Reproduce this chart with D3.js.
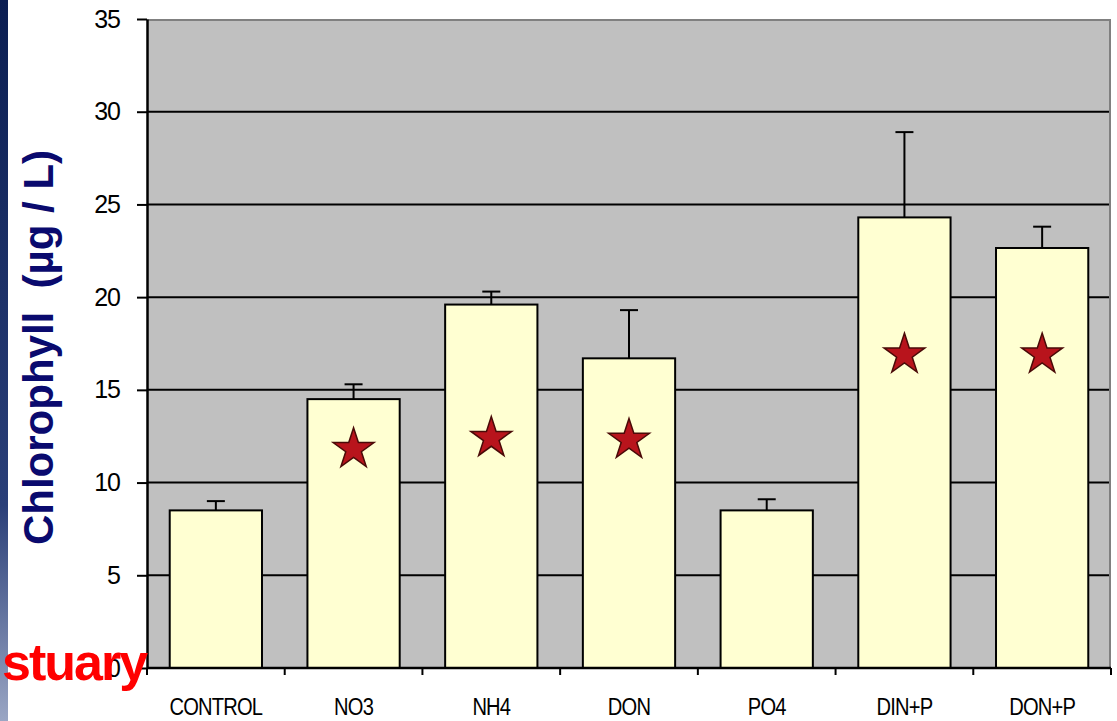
<!DOCTYPE html>
<html>
<head>
<meta charset="utf-8">
<script src="https://cdn.jsdelivr.net/npm/d3@7"></script>
<style>
  html, body { margin: 0; padding: 0; background: #ffffff; }
  svg { display: block; }
</style>
</head>
<body>
<script>
// Chlorophyll response to nutrient additions
const categories = ["CONTROL", "NO3", "NH4", "DON", "PO4", "DIN+P", "DON+P"];
const means      = [8.5, 14.5, 19.6, 16.7, 8.5, 24.3, 22.65];
const errors     = [0.5, 0.8, 0.7, 2.6, 0.6, 4.6, 1.15];
// star marks (significant difference), drawn at these chlorophyll levels
const starLevels = [null, 11.8, 12.4, 12.3, null, 16.9, 16.9];
const yTicks     = [0, 5, 10, 15, 20, 25, 30, 35];

const W = 1117, H = 721;
const plot = { left: 147, right: 1111, top: 19, bottom: 668 };
const FONT = "'Liberation Sans', Arial, sans-serif";

const svg = d3.select("body").append("svg").attr("width", W).attr("height", H);

// slide edge strip on the left
const defs = svg.append("defs");
const grad = defs.append("linearGradient").attr("id", "edge").attr("x1", 0).attr("y1", 0).attr("x2", 0).attr("y2", 1);
grad.append("stop").attr("offset", "0%").attr("stop-color", "#0b1e52");
grad.append("stop").attr("offset", "70%").attr("stop-color", "#2a3f78");
grad.append("stop").attr("offset", "100%").attr("stop-color", "#9aa6c4");
svg.append("rect").attr("x", 0).attr("y", 0).attr("width", 8).attr("height", H).attr("fill", "url(#edge)");

const x = d3.scaleBand().domain(categories).range([plot.left, plot.right]).paddingInner(0.33).paddingOuter(0.165);
const y = d3.scaleLinear().domain([0, 35]).range([plot.bottom, plot.top]);

// plot background
svg.append("rect")
  .attr("x", plot.left).attr("y", plot.top)
  .attr("width", plot.right - plot.left).attr("height", plot.bottom - plot.top)
  .attr("fill", "#c0c0c0");
// top and right frame
svg.append("path")
  .attr("d", `M${plot.left},${plot.top + 1}H${plot.right - 1}V${plot.bottom}`)
  .attr("fill", "none").attr("stroke", "#808080").attr("stroke-width", 2);

// horizontal gridlines
svg.append("g").selectAll("line").data(yTicks.filter(d => d > 0 && d < 35)).join("line")
  .attr("x1", plot.left).attr("x2", plot.right - 2)
  .attr("y1", d => y(d)).attr("y2", d => y(d))
  .attr("stroke", "#000").attr("stroke-width", 2);

// error bars (upper only)
const eb = svg.append("g");
categories.forEach((c, i) => {
  const cx = x(c) + x.bandwidth() / 2;
  eb.append("line").attr("x1", cx).attr("x2", cx)
    .attr("y1", y(means[i])).attr("y2", y(means[i] + errors[i]))
    .attr("stroke", "#000").attr("stroke-width", 2);
  eb.append("line").attr("x1", cx - 9).attr("x2", cx + 9)
    .attr("y1", y(means[i] + errors[i])).attr("y2", y(means[i] + errors[i]))
    .attr("stroke", "#000").attr("stroke-width", 2);
});

// bars
svg.append("g").selectAll("rect").data(categories).join("rect")
  .attr("x", d => x(d)).attr("width", x.bandwidth())
  .attr("y", (d, i) => y(means[i])).attr("height", (d, i) => y(0) - y(means[i]))
  .attr("fill", "#ffffd2").attr("stroke", "#000").attr("stroke-width", 2);

// stars
const star = d3.symbol().type(d3.symbolStar).size(520);
svg.append("g").selectAll("path").data(categories.map((c, i) => ({ c, v: starLevels[i] })).filter(d => d.v != null)).join("path")
  .attr("d", star)
  .attr("transform", d => `translate(${x(d.c) + x.bandwidth() / 2},${y(d.v)})`)
  .attr("fill", "#b8141c").attr("stroke", "#4a0a08").attr("stroke-width", 1.5);

// y axis
const yAxis = svg.append("g").attr("transform", `translate(${plot.left},0)`)
  .call(d3.axisLeft(y).tickValues(yTicks).tickSize(10).tickSizeOuter(0).tickPadding(17));
yAxis.select(".domain").attr("stroke-width", 2.5);
yAxis.selectAll(".tick line").attr("stroke-width", 2);
yAxis.selectAll("text").attr("font-family", FONT).attr("font-size", 25).attr("fill", "#000")
  .attr("letter-spacing", "-1px");

// x axis with ticks at category boundaries
const xg = svg.append("g").attr("transform", `translate(0,${plot.bottom})`);
xg.append("line").attr("x1", plot.left).attr("x2", plot.right).attr("y1", 0).attr("y2", 0)
  .attr("stroke", "#000").attr("stroke-width", 2.5);
const bounds = d3.range(categories.length + 1).map(i => plot.left + i * (plot.right - plot.left) / categories.length);
xg.selectAll("line.tk").data(bounds).join("line").attr("class", "tk")
  .attr("x1", d => d).attr("x2", d => d).attr("y1", 0).attr("y2", 7)
  .attr("stroke", "#000").attr("stroke-width", 2);
xg.selectAll("g.lbl").data(categories).join("g").attr("class", "lbl")
  .attr("transform", d => `translate(${x(d) + x.bandwidth() / 2},47) scale(0.84,1)`)
  .append("text")
  .attr("text-anchor", "middle")
  .attr("font-family", FONT).attr("font-size", 24)
  .attr("letter-spacing", "-1px")
  .attr("fill", "#000").text(d => d);

// y axis title
svg.append("text")
  .attr("transform", `translate(53,${(plot.top + plot.bottom) / 2 + 4}) rotate(-90)`)
  .attr("text-anchor", "middle")
  .attr("font-family", FONT).attr("font-weight", "bold")
  .attr("font-size", 42).attr("fill", "#0a0a6e")
  .text("Chlorophyll\u00a0 (\u00b5g / L)");

// partial slide title at the lower left
svg.append("text")
  .attr("x", 2).attr("y", 680)
  .attr("font-family", FONT).attr("font-weight", "bold")
  .attr("font-size", 52).attr("letter-spacing", "-2px").attr("fill", "#ff0000")
  .text("stuary");
</script>
</body>
</html>
